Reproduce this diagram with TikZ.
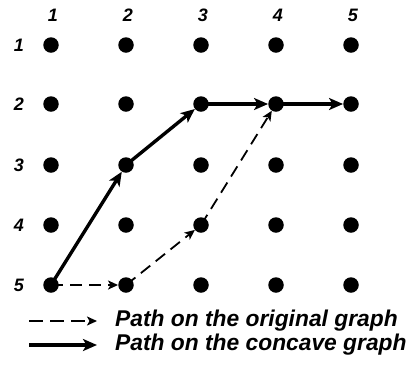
\documentclass[tikz,border=0pt]{standalone}
\usepackage{fontspec}
\setmainfont{Liberation Sans}
\usetikzlibrary{arrows.meta}
\begin{document}
\begin{tikzpicture}[x=1pt,y=-1pt,
  dot/.style={circle,fill=black,inner sep=0pt,minimum size=15.5pt},
  lab/.style={font=\bfseries\itshape\fontsize{18}{18}\selectfont,inner sep=0pt},
  legtext/.style={font=\bfseries\itshape\fontsize{22.8}{23}\selectfont,inner sep=0pt,anchor=west},
  solidarrow/.style={line width=3.4pt,-{Stealth[length=14pt,width=12pt,inset=3.5pt]}},
  dasharrow/.style={line width=1.8pt,dash pattern=on 12pt off 7pt,-{Stealth[length=10pt,width=9pt,inset=2.5pt]}}]
\useasboundingbox (0,0) rectangle (415,368);
\foreach \c/\x in {1/51,2/126,3/201,4/276,5/351}{
  \node[lab] (c\c) at (\x+2,15) {\c};
}
\foreach \r/\y in {1/45,2/104,3/165,4/225,5/285}{
  \node[lab] (r\r) at (19,\y) {\r};
  \foreach \c/\x in {1/51,2/126,3/201,4/276,5/351}{
    \node[dot] (n\c\r) at (\x,\y) {};
  }
}
% concave path
\draw[solidarrow] (n15.center) -- (n23);
\draw[solidarrow] (n23.center) -- (n32);
\draw[solidarrow] (n32.center) -- (n42);
\draw[solidarrow] (n42.center) -- (n52);
% original path
\draw[dasharrow] (n15.center) -- (n25);
\draw[dasharrow] (n25.center) -- (n34);
\draw[dasharrow] (n34.center) -- (n42);
% legend
\coordinate (l1a) at (29,321);
\coordinate (l1b) at (97,321);
\coordinate (l2a) at (29,345);
\coordinate (l2b) at (97,345);
\draw[dasharrow,dash pattern=on 14pt off 7pt] (l1a) -- (l1b);
\draw[solidarrow] (l2a) -- (l2b);
\node[legtext] (t1) at (115,321) {Path on the original graph};
\node[legtext] (t2) at (115,345) {Path on the concave graph};
\end{tikzpicture}
\end{document}
